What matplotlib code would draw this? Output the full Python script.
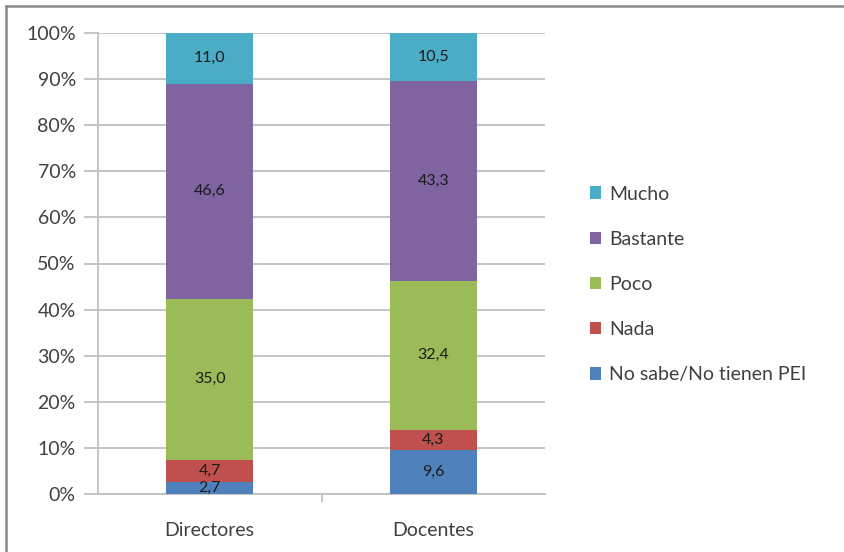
import matplotlib
matplotlib.use("Agg")
import matplotlib.pyplot as plt
from matplotlib.lines import Line2D
from matplotlib.ticker import FuncFormatter

# data (percent, bottom to top)
groups = ["Directores", "Docentes"]
categories = ["No sabe/No tienen PEI", "Nada", "Poco", "Bastante", "Mucho"]
no_sabe = [2.7, 9.6]
nada = [4.7, 4.3]
poco = [35.0, 32.4]
bastante = [46.6, 43.3]
mucho = [11.0, 10.5]
colors = ["#4F81BD", "#C0504D", "#9BBB59", "#8064A2", "#4BACC6"]

plt.rcParams["font.family"] = ["Lato", "DejaVu Sans"]

W, H = 844, 552
fig = plt.figure(figsize=(W / 100, H / 100), dpi=100)
ax = fig.add_axes([98 / W, (H - 494) / H, (545 - 98) / W, (494 - 33) / H])

series = [no_sabe, nada, poco, bastante, mucho]
totals = [sum(s[i] for s in series) for i in range(len(groups))]
x = list(range(len(groups)))
bottoms = [0.0] * len(groups)
handles = []
for vals, col, name in zip(series, colors, categories):
    pct = [v / t * 100 for v, t in zip(vals, totals)]
    bars = ax.bar(x, pct, width=0.39, bottom=bottoms, color=col, label=name, zorder=3)
    handles.append(bars)
    for xi, b, p, v in zip(x, bottoms, pct, vals):
        ax.text(xi, b + p / 2, f"{v:.1f}".replace(".", ","), ha="center", va="center",
                fontsize=11.5, color="#1a1a1a", zorder=4)
    bottoms = [b + p for b, p in zip(bottoms, pct)]

ax.set_xlim(-0.5, 1.5)
ax.set_ylim(0, 100)
ax.set_yticks(range(0, 101, 10))
ax.yaxis.set_major_formatter(FuncFormatter(lambda v, _: f"{int(v)}%"))
ax.grid(axis="y", color="#C0C0C0", linewidth=1.3, zorder=0)
ax.set_xticks(x)
ax.set_xticklabels(groups)
ax.set_xticks([0.5], minor=True)
ax.tick_params(axis="x", which="major", length=0, pad=20, labelsize=14, labelcolor="#404040")
ax.tick_params(axis="x", which="minor", length=6, color="#C0C0C0", width=1.3)
ax.tick_params(axis="y", length=10, color="#C0C0C0", width=1.3, labelsize=14,
               labelcolor="#404040", pad=6)
for s in ["top", "right"]:
    ax.spines[s].set_visible(False)
ax.spines["left"].set_color("#C0C0C0")
ax.spines["left"].set_linewidth(1.3)
ax.spines["bottom"].set_color("#C0C0C0")
ax.spines["bottom"].set_linewidth(1.3)

leg = fig.legend(handles[::-1], categories[::-1], loc="upper left",
                 bbox_to_anchor=(572 / W, 1 - 168 / H), frameon=False,
                 fontsize=14, handlelength=0.6, handleheight=0.6,
                 handletextpad=0.4, labelspacing=1.45)
for t in leg.get_texts():
    t.set_color("#404040")

# outer chart frame (top and left edges visible)
fig.add_artist(Line2D([6 / W, 6 / W], [0, 1 - 6 / H], color="#8a8a8a", linewidth=1.8))
fig.add_artist(Line2D([6 / W, 1], [1 - 6 / H, 1 - 6 / H], color="#8a8a8a", linewidth=1.8))

fig.savefig("out.png", dpi=100)
